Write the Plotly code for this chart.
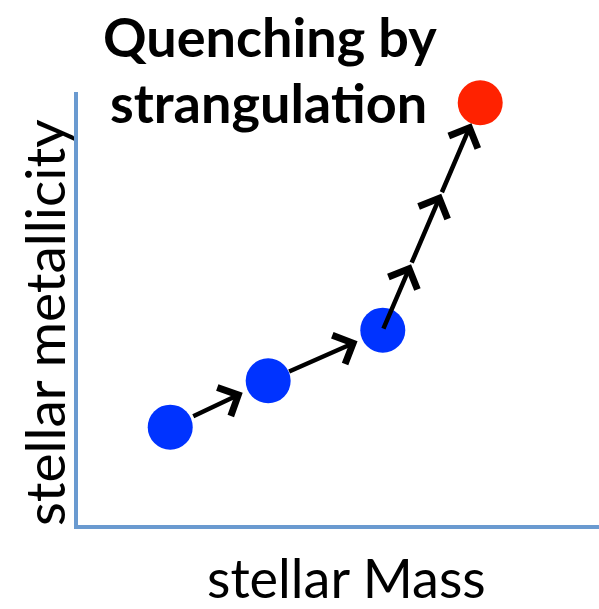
import plotly.graph_objects as go

# schematic data (arbitrary units)
mass = [1.77, 3.65, 5.85, 7.72]
metallicity = [2.26, 3.33, 4.50, 9.75]
colors = ["#0033FF", "#0033FF", "#0033FF", "#FF2200"]

# arrows: (from point index, to point index, start fraction, end fraction)
arrows = [
    (0, 1, 0.22, 0.74),
    (1, 2, 0.17, 0.78),
    (2, 3, 0.00, 0.29),
    (2, 3, 0.29, 0.60),
    (2, 3, 0.60, 0.91),
]

title_lines = ["Quenching by", "strangulation"]
x_label = "stellar Mass"
y_label = "stellar metallicity"

L, R, T, B = 78, 0, 92, 84
W, H = 599, 609
PW, PH = W - L - R, H - T - B

fig = go.Figure()

annotations = []
for i, j, f0, f1 in arrows:
    x0 = mass[i] + (mass[j] - mass[i]) * f0
    y0 = metallicity[i] + (metallicity[j] - metallicity[i]) * f0
    x1 = mass[i] + (mass[j] - mass[i]) * f1
    y1 = metallicity[i] + (metallicity[j] - metallicity[i]) * f1
    annotations.append(dict(
        x=x1, y=y1, ax=x0, ay=y0, xref="x", yref="y", axref="x", ayref="y",
        text="", showarrow=True, arrowhead=4, arrowsize=1.35, arrowwidth=4.5,
        arrowcolor="black", standoff=0, startstandoff=0,
    ))

fig.add_trace(go.Scatter(
    x=mass, y=metallicity, mode="markers",
    marker=dict(size=45, color=colors, line=dict(width=0)),
    hoverinfo="skip", cliponaxis=False,
))


def px_x(px):
    return (px - L) / PW


def px_y(py):
    return (H - B - py) / PH


font_family = "Lato, Open Sans, sans-serif"
texts = [
    ("<b>" + title_lines[0] + "</b>", 270, 37, 54, 0),
    ("<b>" + title_lines[1] + "</b>", 268, 103, 54, 0),
    (x_label, 346, 577, 54, 0),
    (y_label, 44, 323, 55, -90),
]
for txt, x, y, size, ang in texts:
    annotations.append(dict(
        text=txt, x=px_x(x), y=px_y(y), xref="paper", yref="paper",
        showarrow=False, xanchor="center", yanchor="middle", textangle=ang,
        font=dict(size=size, family=font_family, color="black"),
    ))

fig.update_layout(
    width=W, height=H,
    margin=dict(l=L, r=R, t=T, b=B),
    plot_bgcolor="white", paper_bgcolor="white",
    showlegend=False,
    xaxis=dict(range=[0, 10], showgrid=False, zeroline=False, showticklabels=False,
               showline=True, linecolor="#6A9AD0", linewidth=4, ticks=""),
    yaxis=dict(range=[0, 10], showgrid=False, zeroline=False, showticklabels=False,
               showline=True, linecolor="#6A9AD0", linewidth=4, ticks=""),
    annotations=annotations,
)

fig.write_html("out.html", post_script="document.body.style.margin='0';",
               config={"displayModeBar": False})
